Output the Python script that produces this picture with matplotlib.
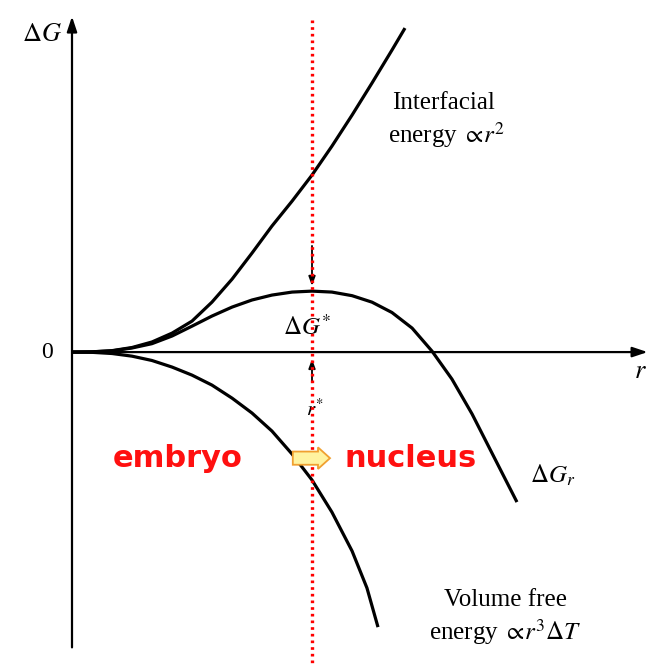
import matplotlib.pyplot as plt
from matplotlib.patches import FancyArrow

plt.rcParams['mathtext.fontset'] = 'stix'
plt.rcParams['font.family'] = ['Liberation Serif', 'DejaVu Serif']

# Radius in units of the critical radius r*, free energy on the same scale
r_star = 1.0

r_int = [0, 0.083, 0.167, 0.25, 0.333, 0.417, 0.5, 0.583, 0.667, 0.75, 0.833, 0.917, 1.0,
         1.083, 1.167, 1.25, 1.333, 1.3875]
g_int = [0, 0.001, 0.006, 0.019, 0.042, 0.079, 0.129, 0.208, 0.304, 0.4125, 0.525, 0.629,
         0.7375, 0.858, 0.9875, 1.121, 1.258, 1.35]

r_tot = [0, 0.083, 0.167, 0.25, 0.333, 0.417, 0.5, 0.583, 0.667, 0.75, 0.833, 0.917, 1.0,
         1.083, 1.167, 1.25, 1.333, 1.417, 1.5, 1.583, 1.667, 1.75, 1.854]
g_tot = [0, 0.001, 0.005, 0.017, 0.035, 0.067, 0.108, 0.15, 0.1875, 0.217, 0.2375, 0.25,
         0.254, 0.25, 0.235, 0.208, 0.165, 0.1, 0.004, -0.1125, -0.258, -0.421, -0.625]

r_vol = [0, 0.083, 0.167, 0.25, 0.333, 0.417, 0.5, 0.583, 0.667, 0.75, 0.833, 0.917, 1.0,
         1.083, 1.167, 1.229, 1.275]
g_vol = [0, -0.001, -0.006, -0.017, -0.035, -0.0625, -0.096, -0.1375, -0.192, -0.254,
         -0.329, -0.425, -0.533, -0.667, -0.829, -0.983, -1.146]

g_star = max(g_tot)

fig = plt.figure(figsize=(6.51, 6.66), dpi=100)
ax = fig.add_axes([0, 0, 1, 1])
ax.set_xlim(-0.3, 2.4125)
ax.set_ylim(-1.308, 1.467)
ax.axis('off')

# axes with arrow heads
ax.annotate('', xy=(0, 1.41), xytext=(0, -1.242),
            arrowprops=dict(arrowstyle='-|>,head_length=0.9,head_width=0.3', lw=1.6, color='black'))
ax.annotate('', xy=(2.41, 0), xytext=(0, 0),
            arrowprops=dict(arrowstyle='-|>,head_length=0.9,head_width=0.3', lw=1.6, color='black'))

# curves
for rr, gg in [(r_int, g_int), (r_tot, g_tot), (r_vol, g_vol)]:
    ax.plot(rr, gg, color='black', lw=2.3, solid_capstyle='butt', solid_joinstyle='round')

# r* and dG* markers
ax.text(1.01, -0.242, '$r^{*}$', fontsize=15, ha='center', va='center', zorder=1)
ax.annotate('', xy=(r_star, g_star + 0.01), xytext=(r_star, 0.454),
            arrowprops=dict(arrowstyle='-|>,head_length=0.55,head_width=0.2', lw=1.3, color='black'))
ax.annotate('', xy=(r_star, -0.017), xytext=(r_star, -0.1375),
            arrowprops=dict(arrowstyle='-|>,head_length=0.55,head_width=0.2', lw=1.3, color='black'))
ax.text(0.979, 0.104, r'$\Delta G^{*}$', fontsize=18, ha='center', va='center')

# critical radius line
ax.plot([r_star, r_star], [1.383, -1.308], color='red', lw=2.4, linestyle=(0, (0.8, 1.2)), zorder=3)

# labels
ax.text(-0.125, 1.321, r'$\Delta G$', fontsize=19, ha='center', va='center')
ax.text(-0.104, 0.0, '0', fontsize=17, ha='center', va='center')
ax.text(2.367, -0.083, '$r$', fontsize=19, ha='center', va='center')
ax.text(1.333, 1.038, 'Interfacial', fontsize=18, ha='left', va='center')
ax.text(1.317, 0.904, r'energy $\propto\!r^2$', fontsize=18, ha='left', va='center')
ax.text(1.908, -0.5125, r'$\Delta G_r$', fontsize=18, ha='left', va='center')
ax.text(1.808, -1.033, 'Volume free', fontsize=18, ha='center', va='center')
ax.text(1.804, -1.167, r'energy $\propto\!r^3\Delta T$', fontsize=18, ha='center', va='center')

ax.text(0.442, -0.442, 'embryo', fontsize=22, fontweight='bold', color='#FF1010',
        family='DejaVu Sans', ha='center', va='center')
ax.text(1.4125, -0.442, 'nucleus', fontsize=22, fontweight='bold', color='#FF1010',
        family='DejaVu Sans', ha='center', va='center')
ax.add_patch(FancyArrow(0.92, -0.442, 0.105, 0, width=0.055, head_width=0.09,
                        head_length=0.05, length_includes_head=False,
                        fc='#FFF3A0', ec='#F0A030', lw=1.3, zorder=4))

fig.savefig('out.png', dpi=100)
